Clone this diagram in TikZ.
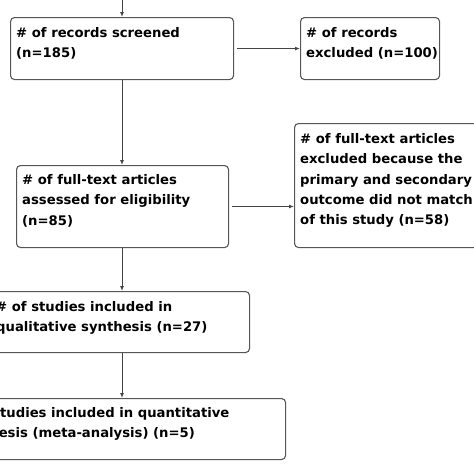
\documentclass[tikz,border=0pt]{standalone}
\usepackage{fontspec}
\setmainfont{DejaVu Sans}
\usetikzlibrary{arrows.meta}
\definecolor{edge}{HTML}{555555}
\definecolor{wire}{HTML}{444444}
\begin{document}
\begin{tikzpicture}[x=1pt,y=-1pt,
  box/.style={draw=edge,line width=1.1pt,rounded corners=4pt,anchor=north west,inner sep=0pt},
  txt/.style={anchor=north west,inner sep=0pt,align=left,font=\fontsize{13.2}{20.4}\selectfont\bfseries,text=black},
  conn/.style={draw=wire,line width=1pt,-{Latex[length=5pt,width=4pt]}}]
\useasboundingbox (0,0) rectangle (474,474);
\clip (0,0) rectangle (474,474);
\node[box,minimum width=223pt,minimum height=62pt] (b1) at (10,17) {};
\node[box,minimum width=139pt,minimum height=62pt] (b2) at (300,17) {};
\node[box,minimum width=212pt,minimum height=82pt] (b3) at (16,165) {};
\node[box,minimum width=200pt,minimum height=124pt] (b4) at (294,123) {};
\node[box,minimum width=289pt,minimum height=61pt] (b5) at (-40,291) {};
\node[box,minimum width=325pt,minimum height=61pt] (b6) at (-40,398) {};
\node[txt] (t1) at (16,27) {\# of records screened\\(n=185)};
\node[txt] (t2) at (306,27) {\# of records\\excluded (n=100)};
\node[txt] (t3) at (22,174) {\# of full-text articles\\assessed for eligibility\\(n=85)};
\node[txt] (t4) at (300,133) {\# of full-text articles\\excluded because the\\primary and secondary\\outcome did not match\\of this study (n=58)};
\node[txt] (t5) at (-4,301) {\# of studies included in\\qualitative synthesis (n=27)};
\node[txt] (t6) at (-43,407) {\# of studies included in quantitative\\synthesis (meta-analysis) (n=5)};
\coordinate (top) at (122,-2);
\draw[conn] (top) -- (top |- b1.north);
\draw[conn] (top |- b1.south) -- (top |- b3.north);
\draw[conn] (top |- b3.south) -- (top |- b5.north);
\draw[conn] (top |- b5.south) -- (top |- b6.north);
\draw[conn,shorten <=3pt] (b1.east) -- (b2.west);
\draw[conn,shorten <=3pt] (b3.east |- 0,206.5) -- (b4.west |- 0,206.5);
\end{tikzpicture}
\end{document}
